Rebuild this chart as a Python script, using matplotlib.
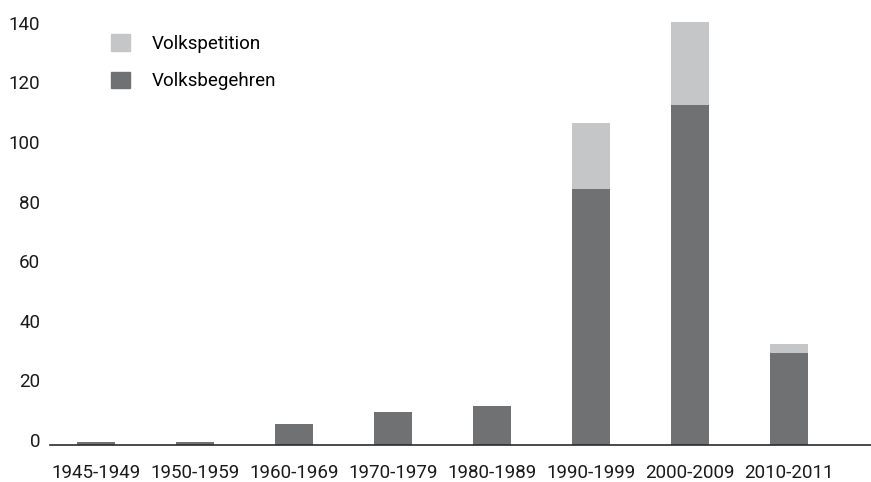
import matplotlib.pyplot as plt
import matplotlib.transforms as mtransforms
from matplotlib.patches import Patch

# Daten
zeitraeume = ["1945-1949", "1950-1959", "1960-1969", "1970-1979",
              "1980-1989", "1990-1999", "2000-2009", "2010-2011"]
volksbegehren = [1, 1, 7, 11, 13, 86, 114, 31]
volkspetition = [0, 0, 0, 0, 0, 22, 28, 3]

farbe_dunkel = "#707173"
farbe_hell = "#c5c6c8"

plt.rcParams['font.family'] = ['Roboto', 'DejaVu Sans']

fig = plt.figure(figsize=(8.71, 4.82), dpi=100)
ax = fig.add_axes([50 / 871, 37 / 482, 821 / 871, 432 / 482])

x = list(range(len(zeitraeume)))
ax.bar(x, volksbegehren, width=0.384, color=farbe_dunkel, zorder=2)
ax.bar(x, volkspetition, width=0.384, bottom=volksbegehren, color=farbe_hell, zorder=2)

ax.set_xlim(-0.465, 7.83)
ax.set_ylim(0, 145)

for s in ["top", "right", "left"]:
    ax.spines[s].set_visible(False)
ax.spines["bottom"].set_color("#2b2b2b")
ax.spines["bottom"].set_linewidth(1.2)
ax.spines["bottom"].set_zorder(3)

ax.set_yticks(range(0, 141, 20))
ax.set_xticks(x)
ax.set_xticklabels(zeitraeume)
ax.tick_params(axis="both", length=0, labelsize=13.5, colors="#1a1a1a")
ax.tick_params(axis="y", pad=7)
ax.tick_params(axis="x", pad=14)

# Y-Beschriftungen leicht nach oben verschieben
verschiebung = mtransforms.ScaledTranslation(0, 5 / 100, fig.dpi_scale_trans)
for label in ax.get_yticklabels():
    label.set_transform(label.get_transform() + verschiebung)

handles = [Patch(color=farbe_hell, label="Volkspetition"),
           Patch(color=farbe_dunkel, label="Volksbegehren")]
ax.legend(handles=handles, loc="upper left", bbox_to_anchor=(48 / 821, 1.0 - 8 / 432),
          frameon=False, fontsize=13.5, handlelength=1.0, handleheight=1.0,
          handletextpad=1.17, labelspacing=1.0, borderaxespad=0.3)

fig.savefig("out.png", dpi=100)
